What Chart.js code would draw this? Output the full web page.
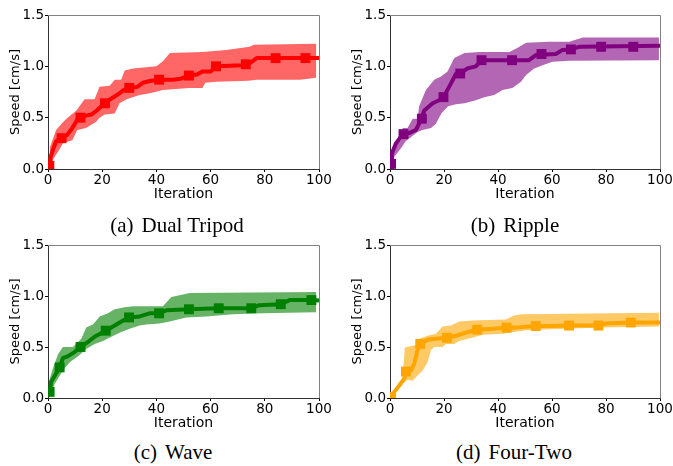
<!DOCTYPE html>
<html>
<head>
<meta charset="utf-8">
<script src="https://cdn.jsdelivr.net/npm/chart.js@4.4.1/dist/chart.umd.min.js"></script>
<style>
  body { margin: 0; background: #fff; }
  #page { position: relative; width: 673px; height: 466px; overflow: hidden; }
  .panel { position: absolute; }
  .cap { position: absolute; width: 336px; text-align: center; font-family: "Liberation Serif", "Times New Roman", serif; font-size: 21px; color: #000; }
  .cap span { margin-right: 8px; }
</style>
</head>
<body>
<div id="page">
  <div class="panel" style="left:0;top:0;width:336px;height:205px"><canvas id="c1"></canvas></div>
  <div class="panel" style="left:342px;top:0;width:331px;height:205px"><canvas id="c2"></canvas></div>
  <div class="panel" style="left:0;top:230px;width:336px;height:204px"><canvas id="c3"></canvas></div>
  <div class="panel" style="left:342px;top:230px;width:331px;height:204px"><canvas id="c4"></canvas></div>
  <div class="cap" style="left:9px;top:213px"><span>(a)</span>Dual Tripod</div>
  <div class="cap" style="left:347px;top:213px"><span>(b)</span>Ripple</div>
  <div class="cap" style="left:5px;top:440px"><span>(c)</span>Wave</div>
  <div class="cap" style="left:346px;top:440px"><span>(d)</span>Four-Two</div>
</div>
<script>
// axis ticks
const xTicks = [0, 20, 40, 60, 80, 100];
const yTicks = [0.0, 0.5, 1.0, 1.5];

// (a) Dual Tripod  -- [iteration, speed]
const tripodMean = [[0.5,0.03],[1,0.12],[2,0.2],[3,0.27],[5,0.3],[7,0.33],[9,0.4],[11,0.49],[12,0.5],[14,0.52],[16,0.53],[18,0.57],[20,0.62],[21,0.64],[23,0.68],[26,0.73],[28,0.77],[30,0.79],[33,0.8],[35,0.84],[38,0.86],[41,0.87],[46,0.87],[49,0.88],[52,0.91],[55,0.92],[57,0.95],[60,0.95],[62,1.0],[72,1.01],[74,1.02],[75,1.04],[77,1.08],[100,1.08]];
const tripodMarks = [[0.5,0.03],[5,0.3],[12,0.5],[21,0.64],[30,0.79],[41,0.87],[52,0.91],[62,1.0],[73,1.02],[84,1.08],[95,1.08]];
const tripodUpper = [[0.5,0.05],[0.8,0.22],[3,0.38],[5,0.44],[6.8,0.49],[10.5,0.57],[13.5,0.68],[17.2,0.68],[19,0.8],[22.8,0.81],[24.6,0.87],[27,0.87],[28.3,0.96],[31.4,0.98],[40,1.0],[42.4,1.05],[45,1.13],[57,1.14],[65.8,1.16],[74.4,1.19],[76,1.21],[99,1.22]];
const tripodLower = [[0.5,0],[1,0.02],[2,0.1],[4,0.18],[5.5,0.25],[9,0.28],[10.8,0.38],[14,0.4],[17.8,0.46],[19,0.5],[21,0.53],[24.6,0.54],[26.4,0.64],[29,0.68],[33.8,0.72],[38,0.74],[42.4,0.77],[52,0.79],[57,0.79],[58,0.84],[62,0.85],[74,0.86],[77,0.87],[93,0.87],[99,0.89]];

// (b) Ripple
const rippleMean = [[0.4,0.0],[0.7,0.15],[2.2,0.25],[4.7,0.34],[7,0.35],[9.6,0.38],[11.5,0.48],[12.7,0.57],[15.8,0.64],[18.2,0.67],[19.8,0.7],[21.9,0.8],[24.4,0.925],[26,0.93],[28.7,0.98],[31.8,1.0],[33.9,1.06],[51.5,1.06],[54,1.11],[61.4,1.12],[63.9,1.16],[67,1.165],[70,1.19],[100,1.2]];
const rippleMarks = [[0.4,0.05],[5,0.34],[11.8,0.49],[19.8,0.7],[26,0.93],[33.9,1.06],[45.2,1.06],[56.1,1.12],[67,1.165],[78.2,1.19],[90.1,1.19]];
const rippleUpper = [[0.4,0.055],[1.6,0.22],[4,0.31],[4.7,0.4],[6.5,0.4],[8.4,0.49],[10.2,0.49],[10.8,0.61],[13.3,0.77],[16.4,0.87],[18.9,0.9],[21.3,0.95],[23.8,1.08],[27.6,1.13],[33.1,1.14],[44.2,1.14],[47.3,1.18],[50.4,1.23],[59,1.24],[66.4,1.24],[71.4,1.28],[99.6,1.28]];
const rippleLower = [[0.4,0],[1.6,0.12],[4,0.2],[5.8,0.27],[7.7,0.31],[10.2,0.36],[12,0.38],[15.2,0.4],[17,0.44],[19,0.54],[21.5,0.61],[24.4,0.63],[27.6,0.64],[31.8,0.67],[34.9,0.7],[38.6,0.72],[41.7,0.77],[45.3,0.79],[48.5,0.85],[50.4,0.915],[53.4,0.98],[56.5,1.01],[60.2,1.045],[66.4,1.055],[99.6,1.06]];

// (c) Wave
const waveMean = [[0.6,0.06],[1.2,0.16],[3,0.24],[4.3,0.3],[5.5,0.39],[7.4,0.41],[9.8,0.45],[12,0.5],[14.8,0.55],[17.2,0.6],[21.3,0.66],[24.6,0.71],[27.7,0.76],[29.9,0.79],[33.8,0.8],[37.5,0.83],[41,0.83],[43.7,0.86],[52,0.87],[63,0.88],[75,0.88],[78,0.91],[85.9,0.92],[89.2,0.96],[97.2,0.96],[100,0.955]];
const waveMarks = [[0.6,0.06],[4.3,0.3],[12,0.5],[21.3,0.66],[29.9,0.79],[41,0.83],[52,0.87],[63,0.88],[75,0.88],[85.9,0.92],[97.2,0.96]];
const waveUpper = [[0.2,0.15],[1.8,0.29],[3.7,0.43],[5.5,0.5],[9.2,0.5],[12.3,0.58],[14.1,0.69],[16.6,0.72],[19.1,0.8],[22.1,0.83],[24.6,0.87],[28.3,0.89],[31.4,0.9],[42.4,0.9],[45.5,0.99],[52.3,1.03],[99,1.04]];
const waveLower = [[0.2,0.0],[0.6,0.01],[2.5,0.14],[5.5,0.27],[8,0.35],[11.1,0.41],[14.1,0.48],[17.2,0.53],[20.3,0.56],[23.4,0.6],[26.4,0.64],[30.1,0.68],[33.8,0.71],[36.3,0.72],[41.2,0.73],[44.9,0.75],[51,0.79],[58.4,0.8],[68.3,0.82],[79.3,0.83],[99,0.84]];

// (d) Four-Two
const fourMean = [[0.4,0.01],[1.6,0.06],[3.5,0.125],[5.3,0.19],[5.9,0.26],[7.8,0.27],[9,0.34],[10.2,0.47],[11.2,0.53],[13.9,0.57],[17,0.58],[21.1,0.59],[24.4,0.61],[29.3,0.65],[32.3,0.67],[38,0.68],[43.2,0.69],[46.6,0.69],[51.5,0.7],[54,0.705],[60.2,0.705],[66.3,0.71],[77.2,0.71],[79.9,0.73],[89.2,0.74],[100,0.74]];
const fourMarks = [[0.4,0.01],[5.9,0.26],[11.2,0.53],[21.1,0.59],[32.3,0.67],[43.2,0.69],[54,0.705],[66.3,0.71],[77.2,0.71],[89.2,0.74]];
const fourUpper = [[0.4,0.04],[2.8,0.11],[4.7,0.21],[5.5,0.495],[9.6,0.52],[10.8,0.58],[13.9,0.61],[17,0.63],[19.5,0.7],[22.6,0.71],[25.6,0.75],[30.6,0.76],[42.9,0.77],[46,0.81],[49,0.82],[99.6,0.835]];
const fourLower = [[0.4,0.0],[2.2,0.06],[4.7,0.14],[6.5,0.18],[8.4,0.17],[10.2,0.22],[12.1,0.27],[13.9,0.35],[15.2,0.47],[16.4,0.5],[19.5,0.5],[20.7,0.53],[23.8,0.53],[25.6,0.56],[31.8,0.6],[34.3,0.62],[41.7,0.63],[46.6,0.65],[50.3,0.665],[59,0.675],[78.7,0.69],[99.6,0.7]];

const pts = arr => arr.map(p => ({ x: p[0], y: p[1] }));

// top + right spines, grey like the original
const framePlugin = {
  id: 'frame',
  afterDraw(chart) {
    const { ctx, chartArea: a } = chart;
    ctx.save();
    ctx.strokeStyle = '#808080';
    ctx.lineWidth = 1;
    ctx.beginPath();
    ctx.moveTo(a.left, a.top + 0.5);
    ctx.lineTo(a.right + 0.5, a.top + 0.5);
    ctx.lineTo(a.right + 0.5, a.bottom);
    ctx.stroke();
    ctx.restore();
  }
};

function makePanel(id, mean, marks, upper, lower, color, band, padRight) {
  const tickFont = { family: 'DejaVu Sans', size: 13.5 };
  return new Chart(document.getElementById(id), {
    type: 'line',
    data: {
      datasets: [
        { data: pts(marks), showLine: false, pointStyle: 'rect', pointRadius: 7,
          pointBackgroundColor: color, pointBorderWidth: 0, order: 0 },
        { data: pts(mean), borderColor: color, borderWidth: 4, pointRadius: 0,
          borderJoinStyle: 'round', tension: 0, order: 1 },
        { data: pts(upper), borderWidth: 0, pointRadius: 0, fill: '+1',
          backgroundColor: band, order: 2 },
        { data: pts(lower), borderWidth: 0, pointRadius: 0, order: 3 }
      ]
    },
    options: {
      responsive: true,
      maintainAspectRatio: false,
      animation: false,
      events: [],
      layout: { padding: { left: 0, right: padRight, top: 15, bottom: 0 } },
      plugins: { legend: { display: false }, tooltip: { enabled: false } },
      scales: {
        x: {
          type: 'linear', min: 0, max: 100,
          afterBuildTicks: s => { s.ticks = xTicks.map(v => ({ value: v })); },
          afterFit: s => { s.height = 36; },
          ticks: { color: '#000', font: tickFont, padding: 0, maxRotation: 0 },
          grid: { drawOnChartArea: false, tickLength: 3, color: '#000' },
          border: { color: '#333', width: 1 },
          title: { display: true, text: 'Iteration', color: '#000',
                   font: { family: 'DejaVu Sans', size: 14 }, padding: { top: 0, bottom: 2 } }
        },
        y: {
          type: 'linear', min: 0, max: 1.5,
          afterBuildTicks: s => { s.ticks = yTicks.map(v => ({ value: v })); },
          afterFit: s => { s.width = 48; },
          ticks: { color: '#000', font: tickFont, padding: 1, callback: v => v.toFixed(1) },
          grid: { drawOnChartArea: false, tickLength: 3, color: '#000' },
          border: { color: '#333', width: 1 },
          title: { display: true, text: 'Speed [cm/s]', color: '#000',
                   font: { family: 'DejaVu Sans', size: 13 }, padding: { top: 8, bottom: 0 } }
        }
      }
    },
    plugins: [framePlugin]
  });
}

makePanel('c1', tripodMean, tripodMarks, tripodUpper, tripodLower, '#ff0000', 'rgba(255,0,0,0.6)', 17);
makePanel('c2', rippleMean, rippleMarks, rippleUpper, rippleLower, '#800080', 'rgba(128,0,128,0.6)', 13);
makePanel('c3', waveMean, waveMarks, waveUpper, waveLower, '#008000', 'rgba(0,128,0,0.6)', 17);
makePanel('c4', fourMean, fourMarks, fourUpper, fourLower, '#ffa500', 'rgba(255,165,0,0.6)', 13);
</script>
</body>
</html>
